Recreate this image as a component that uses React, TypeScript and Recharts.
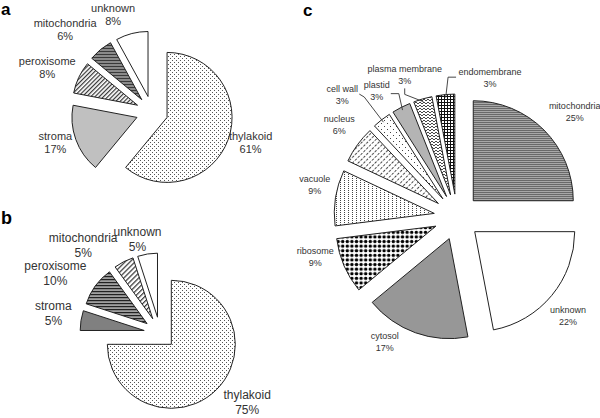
import React from 'react';
import { PieChart, Pie, Cell, Sector } from 'recharts';

// ---------- data ----------
const aNames = ['thylakoid', 'stroma', 'peroxisome', 'mitochondria', 'unknown'];
const aValues = [61, 17, 8, 6, 8];

const bNames = ['thylakoid', 'stroma', 'peroxisome', 'mitochondria', 'unknown'];
const bValues = [75, 5, 10, 5, 5];

const cNames = ['mitochondria', 'unknown', 'cytosol', 'ribosome', 'vacuole', 'nucleus', 'cell wall', 'plastid', 'plasma membrane', 'endomembrane'];
const cValues = [25, 22, 17, 9, 9, 6, 3, 3, 3, 3];

const panelLetters = ['a', 'b', 'c'];

// ---------- styles ----------
const aFills = ['url(#pDots)', '#c0c0c0', 'url(#pDiagA)', 'url(#pHLinesA)', '#ffffff'];
const bFills = ['url(#pDots)', '#808080', 'url(#pHLinesB)', 'url(#pDiagB)', '#ffffff'];
const cFills = ['url(#pHLinesC)', '#ffffff', '#979797', 'url(#pBigDots)', 'url(#pVDots)', 'url(#pDiagC)', 'url(#pSparse)', '#b4b4b4', 'url(#pZigzag)', 'url(#pGrid)'];

// label nudges (px) relative to the radial label position
const aNudge = [[-3, -6], [5, -6], [-7, 2], [-18, 1], [-12, 7]];
const bNudge = [[8, -10], [4, -2.5], [-14, 6], [-26, 12], [-5, 17]];
const cNudge = [[13, 0], [-3, 5], [-22, -14], [-6, -19], [4, -9], [2, -5], [-24, -5], [-13, 6], [-11, 0], [47, 8]];
// leader lines for chart c: [start, elbow] relative to the label centre
const cLeaders: (number[][] | null)[] = [null, null, null, null, null, null, [[17, -1], [22, 2]], [[14, 2.5], [22, 2.5]], [[0, 13.5], [0, 19.5]], [[-34, -0.5], [-42, -0.5]]];

const RAD = Math.PI / 180;
const FONT = 'Liberation Sans, Arial, sans-serif';

const toData = (names: string[], values: number[]) => names.map((n, i) => ({ name: n, value: values[i] }));
const aData = toData(aNames, aValues);
const bData = toData(bNames, bValues);
const cData = toData(cNames, cValues);

const explodedSector = (explode: number) => (props: any) => {
  const { cx, cy, midAngle } = props;
  const dx = explode * Math.cos(-midAngle * RAD);
  const dy = explode * Math.sin(-midAngle * RAD);
  return <Sector {...props} cx={cx + dx} cy={cy + dy} />;
};

const makeLabel = (
  labelR: number,
  nudges: number[][],
  fontSize: number,
  lineH: number,
  explode: number,
  leaders?: (number[][] | null)[],
) => (props: any) => {
  const { cx, cy, midAngle, outerRadius, index, name, value } = props;
  const cos = Math.cos(-midAngle * RAD);
  const sin = Math.sin(-midAngle * RAD);
  const n = nudges[index] || [0, 0];
  const x = cx + labelR * cos + n[0];
  const y = cy + labelR * sin + n[1];
  const lead = leaders ? leaders[index] : null;
  let leaderEl = null;
  if (lead) {
    const ex = cx + explode * cos + outerRadius * 0.97 * cos;
    const ey = cy + explode * sin + outerRadius * 0.97 * sin;
    const pts = `${x + lead[0][0]},${y + lead[0][1]} ${x + lead[1][0]},${y + lead[1][1]} ${ex},${ey}`;
    leaderEl = <polyline points={pts} fill="none" stroke="#333" strokeWidth={0.9} />;
  }
  return (
    <g key={`lbl-${index}`}>
      {leaderEl}
      <text x={x} y={y} textAnchor="middle" fontFamily={FONT} fontSize={fontSize} fill="#333">
        <tspan x={x} y={y - lineH / 2 + fontSize * 0.35}>{name}</tspan>
        <tspan x={x} y={y + lineH / 2 + fontSize * 0.35}>{`${value}%`}</tspan>
      </text>
    </g>
  );
};

export default function App() {
  return (
    <div style={{ position: 'absolute', left: 0, top: 0, width: 600, height: 418, background: '#fff' }}>
      <PieChart width={600} height={418} margin={{ top: 0, right: 0, bottom: 0, left: 0 }}>
        <defs>
          <pattern id="pDots" width="4" height="4" patternUnits="userSpaceOnUse">
            <rect width="4" height="4" fill="#fff" />
            <rect x="0" y="0" width="1" height="1" fill="#555" />
            <rect x="2" y="2" width="1" height="1" fill="#555" />
          </pattern>
          <pattern id="pDiagA" width="3" height="3" patternUnits="userSpaceOnUse" patternTransform="rotate(45)">
            <rect width="3" height="3" fill="#fff" />
            <rect x="0" y="0" width="1.2" height="3" fill="#333" />
          </pattern>
          <pattern id="pHLinesA" width="3" height="3" patternUnits="userSpaceOnUse">
            <rect width="3" height="3" fill="#8a8a8a" />
            <rect x="0" y="0" width="3" height="1" fill="#3a3a3a" />
          </pattern>
          <pattern id="pHLinesB" width="3" height="3" patternUnits="userSpaceOnUse">
            <rect width="3" height="3" fill="#a0a0a0" />
            <rect x="0" y="0" width="3" height="1.2" fill="#222" />
          </pattern>
          <pattern id="pDiagB" width="3.5" height="3.5" patternUnits="userSpaceOnUse" patternTransform="rotate(45)">
            <rect width="3.5" height="3.5" fill="#fff" />
            <rect x="0" y="0" width="1.2" height="3.5" fill="#333" />
          </pattern>
          <pattern id="pHLinesC" width="2" height="2" patternUnits="userSpaceOnUse">
            <rect width="2" height="2" fill="#a8a8a8" />
            <rect x="0" y="0" width="2" height="1" fill="#6a6a6a" />
          </pattern>
          <pattern id="pBigDots" width="4.6" height="4.6" patternUnits="userSpaceOnUse">
            <rect width="4.6" height="4.6" fill="#fff" />
            <circle cx="2.3" cy="2.3" r="1.7" fill="#000" />
          </pattern>
          <pattern id="pVDots" width="4" height="2" patternUnits="userSpaceOnUse">
            <rect width="4" height="2" fill="#fff" />
            <rect x="0" y="0" width="1" height="1" fill="#444" />
          </pattern>
          <pattern id="pDiagC" width="4" height="4" patternUnits="userSpaceOnUse" patternTransform="rotate(45)">
            <rect width="4" height="4" fill="#fff" />
            <rect x="0" y="0" width="1" height="2.5" fill="#444" />
          </pattern>
          <pattern id="pSparse" width="6" height="6" patternUnits="userSpaceOnUse">
            <rect width="6" height="6" fill="#fff" />
            <rect x="0" y="0" width="1" height="1" fill="#444" />
            <rect x="3" y="3" width="1" height="1" fill="#444" />
          </pattern>
          <pattern id="pZigzag" width="4" height="3" patternUnits="userSpaceOnUse">
            <rect width="4" height="3" fill="#fff" />
            <polyline points="0,0 2,2 4,0" fill="none" stroke="#333" strokeWidth="0.9" />
          </pattern>
          <pattern id="pGrid" width="3" height="3" patternUnits="userSpaceOnUse">
            <rect width="3" height="3" fill="#fff" />
            <rect x="0" y="0" width="3" height="1" fill="#111" />
            <rect x="0" y="0" width="1" height="3" fill="#111" />
          </pattern>
        </defs>

        <Pie
          data={aData}
          dataKey="value"
          nameKey="name"
          cx={152}
          cy={112}
          outerRadius={65}
          startAngle={90}
          endAngle={-270}
          stroke="#222"
          strokeWidth={1}
          isAnimationActive={false}
          shape={explodedSector(16)}
          label={makeLabel(108, aNudge, 11, 13, 16)}
          labelLine={false}
        >
          {aData.map((d, i) => <Cell key={d.name} fill={aFills[i]} />)}
        </Pie>

        <Pie
          data={bData}
          dataKey="value"
          nameKey="name"
          cx={160}
          cy={333}
          outerRadius={64}
          startAngle={90}
          endAngle={-270}
          stroke="#222"
          strokeWidth={1}
          isAnimationActive={false}
          shape={explodedSector(16)}
          label={makeLabel(112, bNudge, 12, 15, 16)}
          labelLine={false}
        >
          {bData.map((d, i) => <Cell key={d.name} fill={bFills[i]} />)}
        </Pie>

        <Pie
          data={cData}
          dataKey="value"
          nameKey="name"
          cx={457}
          cy={217}
          outerRadius={100}
          startAngle={90}
          endAngle={-270}
          stroke="#222"
          strokeWidth={1}
          isAnimationActive={false}
          shape={explodedSector(23)}
          label={makeLabel(148, cNudge, 9, 12, 23, cLeaders)}
          labelLine={false}
        >
          {cData.map((d, i) => <Cell key={d.name} fill={cFills[i]} />)}
        </Pie>

        <text x={1} y={15} fontFamily={FONT} fontSize={17} fontWeight="bold" fill="#000">{panelLetters[0]}</text>
        <text x={1} y={224} fontFamily={FONT} fontSize={18} fontWeight="bold" fill="#000">{panelLetters[1]}</text>
        <text x={303} y={16} fontFamily={FONT} fontSize={17} fontWeight="bold" fill="#000">{panelLetters[2]}</text>
      </PieChart>
    </div>
  );
}
